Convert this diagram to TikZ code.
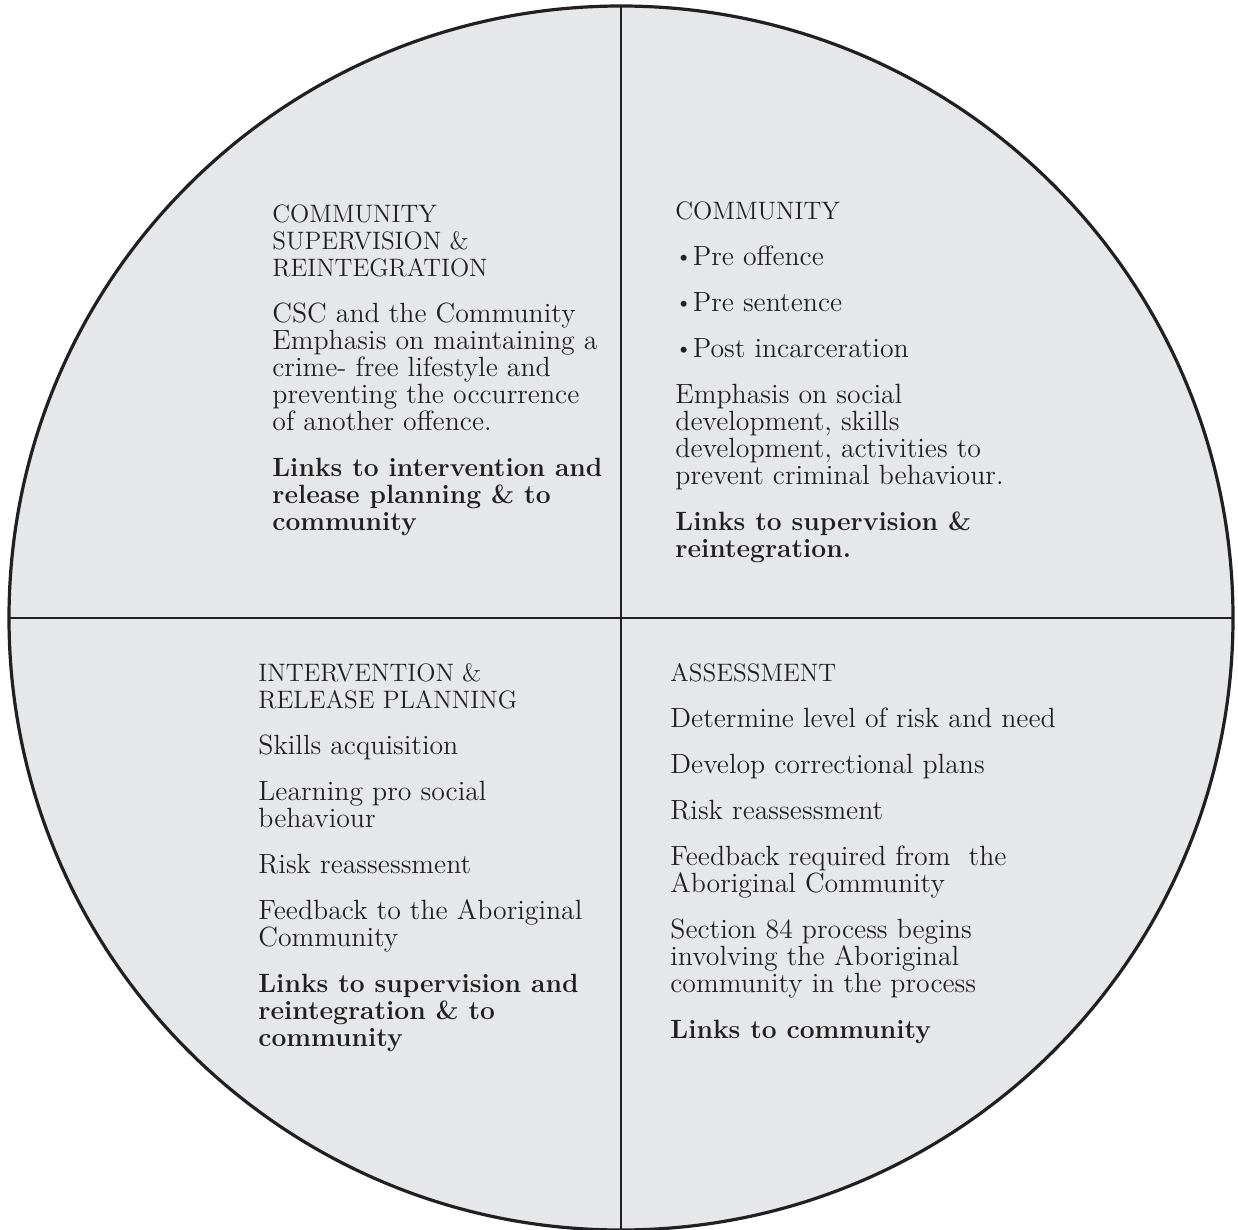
\documentclass[tikz,border=0pt]{standalone}
\usepackage{xcolor}
\usepackage{tikz}
\usetikzlibrary{positioning,shapes.geometric}

\definecolor{discgray}{HTML}{E6E7E8}
\definecolor{inkblack}{HTML}{231F20}

\tikzset{
	quarter/.style={anchor=north west,inner sep=0pt,align=left,text=inkblack,
		font=\fontsize{13.9pt}{13.5pt}\selectfont},
}
\newcommand{\pgap}{\\[9.5pt]}
\newcommand{\capline}[1]{{\fontsize{12.6pt}{13.5pt}\selectfont #1}}
\newcommand{\linkline}[1]{{\fontsize{13.2pt}{13.5pt}\selectfont\bfseries #1}}
\newcommand{\dotitem}{\raisebox{1pt}{\fontsize{11pt}{11pt}\selectfont\textbullet}\hspace{0.3pt}}

\begin{document}
\begin{tikzpicture}[x=0.5pt,y=-0.5pt]
	\useasboundingbox (0,0) rectangle (1238,1230);
	\node[circle,draw=inkblack,line width=1.6pt,fill=discgray,minimum size=612pt,inner sep=0pt,outer sep=0pt] (disc) at (621,618) {};
	\draw[inkblack,line width=1pt] (disc.north) -- (disc.south);
	\draw[inkblack,line width=1pt] (disc.west) -- (disc.east);
	% top left
	\node[quarter] (supervision) at (272,204) {\capline{COMMUNITY}\\\capline{SUPERVISION \&}\\\capline{REINTEGRATION}\pgap
		CSC and the Community\\Emphasis on maintaining a\\crime- free lifestyle and\\preventing the occurrence\\of another offence.\pgap
		\linkline{Links to intervention and}\\\linkline{release planning \& to}\\\linkline{community}};
	% top right
	\node[quarter] (community) at (675,201) {\capline{COMMUNITY}\pgap
		\dotitem Pre offence\pgap
		\dotitem Pre sentence\pgap
		\dotitem Post incarceration\pgap
		Emphasis on social\\development, skills\\development, activities to\\prevent criminal behaviour.\pgap
		\linkline{Links to supervision \&}\\\linkline{reintegration.}};
	% bottom left
	\node[quarter] (intervention) at (258,663) {\capline{INTERVENTION \&}\\\capline{RELEASE PLANNING}\pgap
		Skills acquisition\pgap
		Learning pro social\\behaviour\pgap
		Risk reassessment\pgap
		Feedback to the Aboriginal\\Community\pgap
		\linkline{Links to supervision and}\\\linkline{reintegration \& to}\\\linkline{community}};
	% bottom right
	\node[quarter] (assessment) at (670,663) {\capline{ASSESSMENT}\pgap
		Determine level of risk and need\pgap
		Develop correctional plans\pgap
		Risk reassessment\pgap
		Feedback required from\ \ the\\Aboriginal Community\pgap
		Section 84 process begins\\involving the Aboriginal\\community in the process\pgap
		\linkline{Links to community}};
\end{tikzpicture}
\end{document}
